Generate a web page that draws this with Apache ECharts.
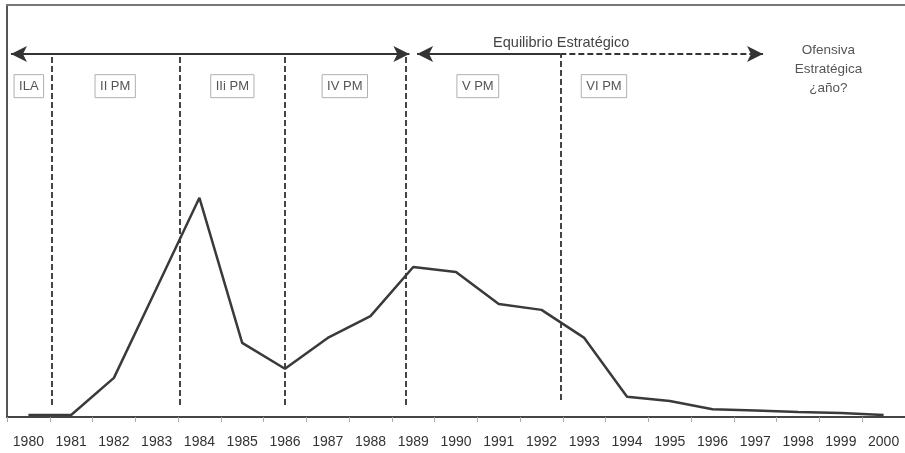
<!DOCTYPE html>
<html>
<head>
<meta charset="utf-8">
<script src="https://cdn.jsdelivr.net/npm/echarts@6/dist/echarts.min.js"></script>
<style>
  html, body { margin: 0; padding: 0; background: #fff; }
  #chart { width: 905px; height: 453px; }
</style>
</head>
<body>
<div id="chart"></div>
<script>
  // datos
  var years = ['1980', '1981', '1982', '1983', '1984', '1985', '1986', '1987', '1988', '1989', '1990',
    '1991', '1992', '1993', '1994', '1995', '1996', '1997', '1998', '1999', '2000']
  var values = [0.5, 0.5, 9.5, 31.3, 53.2, 18, 11.7, 19.2, 24.5, 36.4, 35.2,
    27.4, 26, 19.2, 4.9, 3.9, 1.9, 1.6, 1.2, 1, 0.5]

  // periodos (posicion en escala 0..21 del eje auxiliar)
  var periodNames = ['ILA', 'II PM', 'IIi PM', 'IV PM', 'V PM', 'VI PM']
  var periodPos = [0.51, 2.53, 5.27, 7.9, 11.01, 13.96]
  var dividerPos = [1.045, 4.04, 6.5, 9.33, 12.94]
  var dividerBottom = [2.9, 2.9, 2.9, 2.9, 4.1]

  var arrowY = 88.1
  var lineColor = '#3a3a3a'

  var chart = echarts.init(document.getElementById('chart'))

  var dividers = dividerPos.map(function (x, i) {
    return [{ coord: [x, dividerBottom[i]] }, { coord: [x, arrowY] }]
  })

  var arrows = [
    [{ coord: [0.093, arrowY], symbol: 'arrow' }, { coord: [9.41, arrowY], symbol: 'arrow' }],
    [{ coord: [9.59, arrowY], symbol: 'arrow' }, { coord: [dividerPos[4], arrowY], symbol: 'none' }],
    [{ coord: [dividerPos[4], arrowY], symbol: 'none', lineStyle: { type: [6, 3] } },
      { coord: [17.68, arrowY], symbol: 'arrow' }]
  ]

  var boxes = periodNames.map(function (name, i) {
    return {
      coord: [periodPos[i], 80.3],
      label: {
        show: true,
        position: 'inside',
        formatter: name,
        color: '#555',
        fontSize: 13,
        borderColor: '#b0b0b0',
        borderWidth: 1,
        padding: [5, 5, 5, 5]
      }
    }
  })

  var texts = [
    {
      coord: [12.96, 90.8],
      label: { show: true, position: 'inside', formatter: 'Equilibrio Estratégico', color: '#444', fontSize: 14.5 }
    },
    {
      coord: [19.21, 84.5],
      label: {
        show: true, position: 'inside', formatter: 'Ofensiva\nEstratégica\n¿año?',
        color: '#555', fontSize: 13.5, lineHeight: 19, align: 'center'
      }
    }
  ]

  var option = {
    backgroundColor: '#fff',
    animation: false,
    textStyle: { fontFamily: 'Liberation Sans, Arial, sans-serif' },
    grid: {
      left: 7,
      top: 5,
      right: 0,
      bottom: 36,
      show: false,
      containLabel: false
    },
    xAxis: [
      {
        type: 'category',
        data: years,
        boundaryGap: true,
        axisLine: { lineStyle: { color: '#444', width: 2 } },
        axisTick: { show: true, alignWithLabel: false, length: 5, lineStyle: { color: '#aaa' } },
        axisLabel: {
          color: '#333',
          fontSize: 14,
          interval: 0,
          margin: 18
        },
        splitLine: { show: false }
      },
      {
        // eje auxiliar para anotaciones; su linea hace de borde superior
        type: 'value',
        min: 0,
        max: 21,
        position: 'top',
        axisLine: { show: true, onZero: false, lineStyle: { color: '#777', width: 2 } },
        axisTick: { show: false },
        axisLabel: { show: false },
        splitLine: { show: false }
      }
    ],
    yAxis: {
      type: 'value',
      min: 0,
      max: 100,
      axisLine: { show: true, onZero: false, lineStyle: { color: '#555', width: 2 } },
      axisTick: { show: false },
      axisLabel: { show: false },
      splitLine: { show: false }
    },
    series: [
      {
        type: 'line',
        data: values,
        symbol: 'none',
        lineStyle: { color: lineColor, width: 2.5 },
        z: 5
      },
      {
        type: 'scatter',
        xAxisIndex: 1,
        data: [[0, 0]],
        symbolSize: 0,
        silent: true,
        markLine: {
          silent: true,
          symbol: 'none',
          label: { show: false },
          lineStyle: { color: '#444', width: 2, type: [6, 3] },
          data: dividers
        }
      },
      {
        type: 'scatter',
        xAxisIndex: 1,
        data: [[0, 0]],
        symbolSize: 0,
        silent: true,
        markLine: {
          silent: true,
          symbolSize: [12, 16],
          label: { show: false },
          lineStyle: { color: '#333', width: 2, type: 'solid' },
          data: arrows
        },
        markPoint: {
          silent: true,
          symbol: 'rect',
          symbolSize: 0,
          data: boxes.concat(texts)
        }
      }
    ]
  }

  chart.setOption(option)
</script>
</body>
</html>
